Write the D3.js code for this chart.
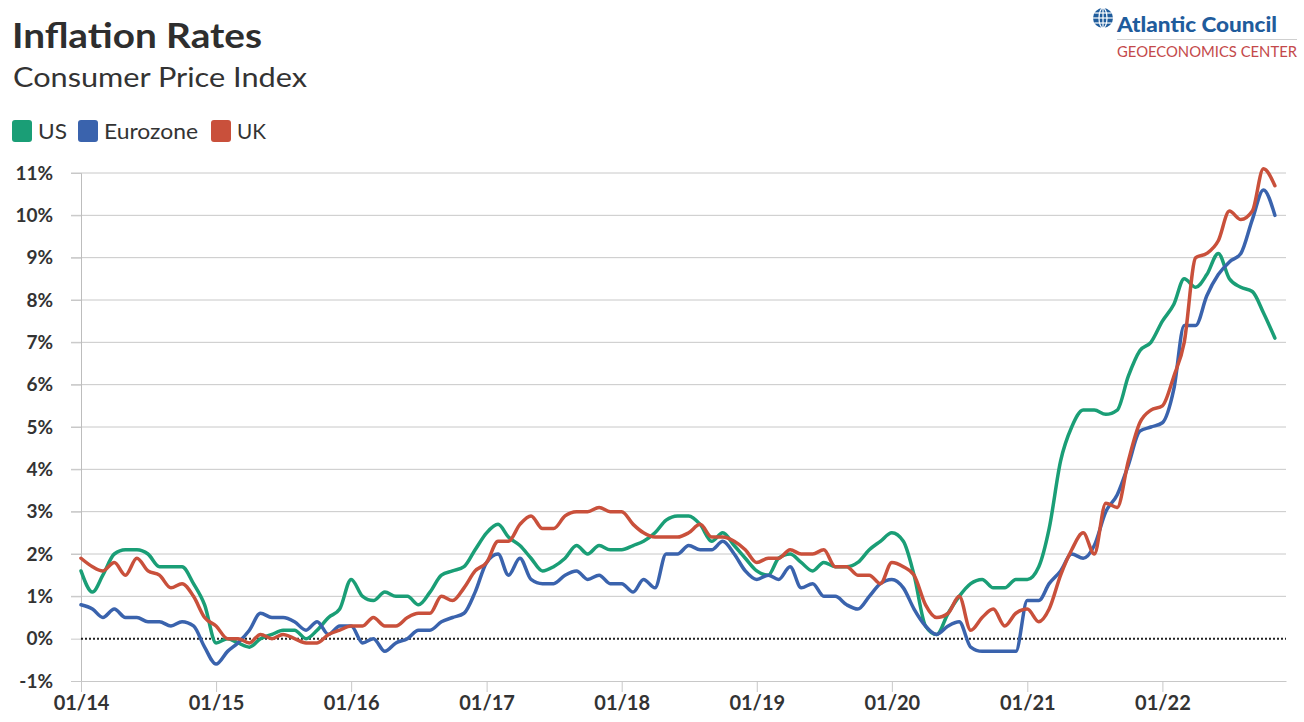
<!DOCTYPE html>
<html>
<head>
<meta charset="utf-8">
<script src="https://cdn.jsdelivr.net/npm/d3@7"></script>
<style>
  html, body { margin: 0; padding: 0; background: #fff; }
  svg { display: block; font-family: Lato, "Open Sans", sans-serif; }
</style>
</head>
<body>
<svg id="chart" width="1304" height="722"></svg>
<script>
// ---- Data (monthly, year-over-year CPI, %) ----
const startMonth = "2014-01";
const seriesNames = ["US", "Eurozone", "UK"];
const seriesColors = ["#1a9e76", "#3a63ad", "#c9503b"];

const us = [
  1.6, 1.1, 1.5, 2.0, 2.1, 2.1, 2.0, 1.7, 1.7, 1.7, 1.3, 0.8,
  -0.1, 0.0, -0.1, -0.2, 0.0, 0.1, 0.2, 0.2, 0.0, 0.2, 0.5, 0.7,
  1.4, 1.0, 0.9, 1.1, 1.0, 1.0, 0.8, 1.1, 1.5, 1.6, 1.7, 2.1,
  2.5, 2.7, 2.4, 2.2, 1.9, 1.6, 1.7, 1.9, 2.2, 2.0, 2.2, 2.1,
  2.1, 2.2, 2.3, 2.5, 2.8, 2.9, 2.9, 2.7, 2.3, 2.5, 2.2, 1.9,
  1.6, 1.5, 1.9, 2.0, 1.8, 1.6, 1.8, 1.7, 1.7, 1.8, 2.1, 2.3,
  2.5, 2.3, 1.5, 0.3, 0.1, 0.6, 1.0, 1.3, 1.4, 1.2, 1.2, 1.4,
  1.4, 1.7, 2.6, 4.2, 5.0, 5.4, 5.4, 5.3, 5.4, 6.2, 6.8, 7.0,
  7.5, 7.9, 8.5, 8.3, 8.6, 9.1, 8.5, 8.3, 8.2, 7.7, 7.1
];
const eurozone = [
  0.8, 0.7, 0.5, 0.7, 0.5, 0.5, 0.4, 0.4, 0.3, 0.4, 0.3, -0.2,
  -0.6, -0.3, -0.1, 0.2, 0.6, 0.5, 0.5, 0.4, 0.2, 0.4, 0.1, 0.3,
  0.3, -0.1, 0.0, -0.3, -0.1, 0.0, 0.2, 0.2, 0.4, 0.5, 0.6, 1.1,
  1.8, 2.0, 1.5, 1.9, 1.4, 1.3, 1.3, 1.5, 1.6, 1.4, 1.5, 1.3,
  1.3, 1.1, 1.4, 1.2, 2.0, 2.0, 2.2, 2.1, 2.1, 2.3, 2.0, 1.6,
  1.4, 1.5, 1.4, 1.7, 1.2, 1.3, 1.0, 1.0, 0.8, 0.7, 1.0, 1.3,
  1.4, 1.2, 0.7, 0.3, 0.1, 0.3, 0.4, -0.2, -0.3, -0.3, -0.3, -0.3,
  0.9, 0.9, 1.3, 1.6, 2.0, 1.9, 2.2, 3.0, 3.4, 4.1, 4.9, 5.0,
  5.1, 5.9, 7.4, 7.4, 8.1, 8.6, 8.9, 9.1, 9.9, 10.6, 10.0
];
const uk = [
  1.9, 1.7, 1.6, 1.8, 1.5, 1.9, 1.6, 1.5, 1.2, 1.3, 1.0, 0.5,
  0.3, 0.0, 0.0, -0.1, 0.1, 0.0, 0.1, 0.0, -0.1, -0.1, 0.1, 0.2,
  0.3, 0.3, 0.5, 0.3, 0.3, 0.5, 0.6, 0.6, 1.0, 0.9, 1.2, 1.6,
  1.8, 2.3, 2.3, 2.7, 2.9, 2.6, 2.6, 2.9, 3.0, 3.0, 3.1, 3.0,
  3.0, 2.7, 2.5, 2.4, 2.4, 2.4, 2.5, 2.7, 2.4, 2.4, 2.3, 2.1,
  1.8, 1.9, 1.9, 2.1, 2.0, 2.0, 2.1, 1.7, 1.7, 1.5, 1.5, 1.3,
  1.8, 1.7, 1.5, 0.8, 0.5, 0.6, 1.0, 0.2, 0.5, 0.7, 0.3, 0.6,
  0.7, 0.4, 0.7, 1.5, 2.1, 2.5, 2.0, 3.2, 3.1, 4.2, 5.1, 5.4,
  5.5, 6.2, 7.0, 9.0, 9.1, 9.4, 10.1, 9.9, 10.1, 11.1, 10.7
];
const yTicks = [-1, 0, 1, 2, 3, 4, 5, 6, 7, 8, 9, 10, 11];
const xTickLabels = ["01/14", "01/15", "01/16", "01/17", "01/18", "01/19", "01/20", "01/21", "01/22"];

// ---- Setup ----
const svg = d3.select("#chart");
const parseMonth = d3.timeParse("%Y-%m");
const parseTick = d3.timeParse("%m/%y");
const start = parseMonth(startMonth);
const months = d3.range(us.length).map(i => d3.timeMonth.offset(start, i));
const domainEnd = d3.timeMonth.offset(start, us.length); // one month of padding

const margin = { left: 81, right: 18, top: 173, bottom: 41 };
const W = 1304, H = 722;
const x = d3.scaleTime().domain([start, domainEnd]).range([margin.left, W - margin.right]);
const y = d3.scaleLinear().domain([-1, 11]).range([H - margin.bottom, margin.top]);

const textColor = "#333333";

// ---- Title ----
svg.append("text").attr("x", 12).attr("y", 48)
  .attr("font-size", 34).attr("font-weight", 700).attr("fill", "#2e2e2e")
  .attr("textLength", 250).attr("lengthAdjust", "spacingAndGlyphs")
  .text("Inflation Rates");
svg.append("text").attr("x", 13).attr("y", 87)
  .attr("font-size", 26).attr("font-weight", 400).attr("fill", "#333")
  .attr("textLength", 294).attr("lengthAdjust", "spacingAndGlyphs")
  .text("Consumer Price Index");

// ---- Legend ----
const legendPos = [12, 78, 211];
const legendTextLen = [29, 94, 29];
const legend = svg.append("g");
seriesNames.forEach((name, i) => {
  const g = legend.append("g").attr("transform", `translate(${legendPos[i]},120)`);
  g.append("rect").attr("width", 20).attr("height", 22).attr("rx", 3).attr("fill", seriesColors[i]);
  g.append("text").attr("x", 26).attr("y", 19).attr("font-size", 22).attr("fill", "#333")
    .attr("textLength", legendTextLen[i]).attr("lengthAdjust", "spacingAndGlyphs")
    .text(name);
});

// ---- Logo ----
const logo = svg.append("g");
const gx = 1103, gy = 18, gr = 10;
logo.append("circle").attr("cx", gx).attr("cy", gy).attr("r", gr).attr("fill", "#1f5c9c");
const globeLines = logo.append("g").attr("stroke", "#fff").attr("stroke-width", 1.2).attr("fill", "none");
globeLines.append("ellipse").attr("cx", gx).attr("cy", gy).attr("rx", 4).attr("ry", gr);
globeLines.append("line").attr("x1", gx).attr("x2", gx).attr("y1", gy - gr).attr("y2", gy + gr);
[-5, 0, 5].forEach(d => globeLines.append("line")
  .attr("x1", gx - Math.sqrt(gr * gr - d * d)).attr("x2", gx + Math.sqrt(gr * gr - d * d))
  .attr("y1", gy + d).attr("y2", gy + d));
logo.append("text").attr("x", 1117).attr("y", 32)
  .attr("font-size", 21).attr("font-weight", 900).attr("fill", "#1f5c9c")
  .attr("textLength", 160).attr("lengthAdjust", "spacingAndGlyphs")
  .text("Atlantic Council");
logo.append("line").attr("x1", 1117).attr("x2", 1297).attr("y1", 39.5).attr("y2", 39.5)
  .attr("stroke", "#cfcfcf").attr("stroke-width", 1);
logo.append("text").attr("x", 1117).attr("y", 57)
  .attr("font-size", 14.5).attr("font-weight", 400).attr("fill", "#c4494a")
  .attr("textLength", 180).attr("lengthAdjust", "spacingAndGlyphs")
  .text("GEOECONOMICS CENTER");

// ---- Grid ----
const grid = svg.append("g");
grid.selectAll("line").data(yTicks.filter(d => d !== 0 && d !== -1)).join("line")
  .attr("x1", margin.left - 10).attr("x2", W - margin.right)
  .attr("y1", d => y(d)).attr("y2", d => y(d))
  .attr("stroke", "#c8c8c8").attr("stroke-width", 1);

// ---- Y axis ----
const yAxis = svg.append("g").attr("transform", `translate(${margin.left},0)`)
  .call(d3.axisLeft(y).tickValues(yTicks).tickFormat(d => d + "%").tickSize(10).tickPadding(18));
yAxis.select(".domain").attr("stroke", "#bdbdbd");
yAxis.selectAll(".tick line").attr("stroke", "#c8c8c8");
yAxis.selectAll(".tick text").attr("font-size", 19).attr("font-weight", 700)
  .attr("fill", textColor).attr("font-family", "Lato, sans-serif");

// ---- X axis ----
const xAxis = svg.append("g").attr("transform", `translate(0,${y(-1)})`)
  .call(d3.axisBottom(x).tickValues(xTickLabels.map(parseTick)).tickFormat(d3.timeFormat("%m/%y"))
    .tickSize(11).tickSizeOuter(0).tickPadding(4));
xAxis.select(".domain").attr("stroke", "#c8c8c8");
xAxis.selectAll(".tick line").attr("stroke", "#c8c8c8");
xAxis.selectAll(".tick text").attr("font-size", 20).attr("font-weight", 700)
  .attr("fill", textColor).attr("font-family", "Lato, sans-serif");

// ---- Zero line ----
svg.append("line").attr("x1", margin.left).attr("x2", W - margin.right)
  .attr("y1", y(0)).attr("y2", y(0))
  .attr("stroke", "#222").attr("stroke-width", 2).attr("stroke-dasharray", "2,2");

// ---- Lines ----
const seriesData = [us, eurozone, uk];
const line = d3.line().x((d, i) => x(months[i])).y(d => y(d)).curve(d3.curveMonotoneX);
svg.append("g").selectAll("path").data(seriesData).join("path")
  .attr("d", d => line(d))
  .attr("fill", "none")
  .attr("stroke", (d, i) => seriesColors[i])
  .attr("stroke-width", 3.5)
  .attr("stroke-linejoin", "round")
  .attr("stroke-linecap", "round");
</script>
</body>
</html>
